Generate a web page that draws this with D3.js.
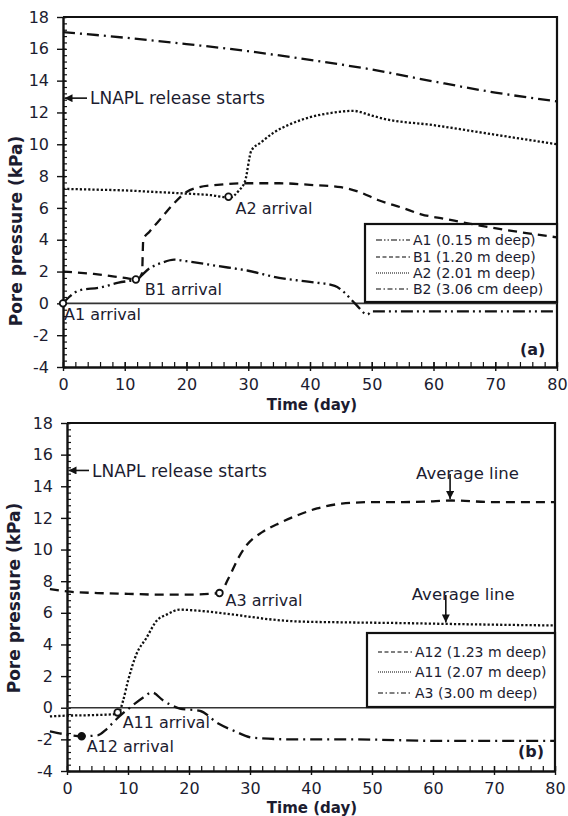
<!DOCTYPE html>
<html><head><meta charset="utf-8">
<script src="https://cdn.jsdelivr.net/npm/d3@7"></script>
<style>body{margin:0;background:#fff} svg{display:block}</style>
</head><body><svg id="c" width="568" height="816"></svg>
<script>
// ---------- data ----------
const xTicks = [0,10,20,30,40,50,60,70,80];
const yTicks = [-4,-2,0,2,4,6,8,10,12,14,16,18];
const legendA = ["A1 (0.15 m deep)","B1 (1.20 m deep)","A2 (2.01 m deep)","B2 (3.06 cm deep)"];
const legendB = ["A12 (1.23 m deep)","A11 (2.07 m deep)","A3 (3.00 m deep)"];

// panel (a)
const seriesA1 = [[0,0],[1,0.4],[2.5,0.8],[6,1.0],[9,1.3],[12,1.55],[14,2.2],[16,2.55],[18,2.75],[20,2.65],[25,2.35],[30,2.05],[35,1.6],[40,1.35],[44,1.1],[45.5,0.7],[47.5,-0.1],[49.3,-0.7],[50,-0.5],[60,-0.5],[70,-0.5],[80,-0.5]];
const seriesB1 = [[0,2.0],[5,1.85],[10,1.6],[12,1.5],[12.8,1.9],[13,4.0],[14,4.5],[16,5.4],[18,6.3],[20,7.0],[22,7.3],[25,7.45],[30,7.55],[35,7.55],[40,7.45],[45,7.3],[48,7.0],[51,6.5],[55,6.0],[58,5.6],[62,5.3],[66,5.0],[72,4.6],[80,4.15]];
const seriesA2 = [[0,7.2],[5,7.15],[10,7.1],[15,7.0],[20,6.9],[24,6.8],[27,6.65],[28.5,7.1],[29.5,7.7],[30.5,9.6],[32,10.1],[34,10.7],[37,11.3],[40,11.7],[44,12.0],[47,12.1],[50,11.8],[52,11.6],[60,11.2],[70,10.6],[80,10.0]];
const seriesB2 = [[0,17.05],[10,16.7],[20,16.3],[30,15.85],[40,15.3],[50,14.7],[60,13.95],[70,13.25],[80,12.7]];
// panel (b)
const seriesA12 = [[-2.8,7.5],[0,7.35],[5,7.25],[10,7.2],[15,7.15],[20,7.15],[25,7.25],[26.5,8.2],[28,9.4],[29.5,10.3],[32,11.1],[35,11.7],[38,12.2],[41,12.6],[45,12.9],[50,13.0],[55,13.0],[60,13.05],[63,13.1],[70,13.0],[80,13.0]];
const seriesA11 = [[-2.8,-0.55],[0,-0.5],[4,-0.47],[8,-0.4],[8.5,-0.3],[9.2,0.45],[10,1.7],[11.4,3.4],[13,4.4],[14.7,5.5],[16.4,5.9],[18.5,6.2],[21,6.15],[25,6.0],[30,5.75],[33,5.6],[38,5.45],[45,5.4],[55,5.35],[62,5.3],[70,5.25],[80,5.2]];
const seriesA3 = [[-2.8,-1.5],[-0.8,-1.65],[2.4,-1.8],[5,-1.75],[6.5,-1.35],[7.9,-0.8],[10.6,0.1],[12.5,0.65],[13.9,0.97],[15.8,0.45],[18.5,-0.05],[21.8,-0.2],[24.8,-1.0],[27.3,-1.45],[30.5,-1.9],[37,-2.0],[46,-2.0],[62,-2.1],[80,-2.1]];

// arrival markers [day, kPa]
const arrivalsA = [{label:"A1 arrival",p:[0,0]},{label:"B1 arrival",p:[11.8,1.5]},{label:"A2 arrival",p:[26.8,6.7]}];
const arrivalsB = [{label:"A3 arrival",p:[25,7.25]},{label:"A11 arrival",p:[8.3,-0.3]},{label:"A12 arrival",p:[2.4,-1.8],filled:true}];
const releaseA = 12.9, releaseB = 15.0;
const averageB = [[62.8,13.1],[62.1,5.3]];

// ---------- drawing ----------
const svg = d3.select("#c");
const FONT = "DejaVu Sans";
const TXT = "#1c1c30";
svg.append("defs").append("marker")
  .attr("id","ah").attr("viewBox","0 0 10 10").attr("refX",10).attr("refY",5)
  .attr("markerWidth",9).attr("markerHeight",8).attr("markerUnits","userSpaceOnUse")
  .attr("orient","auto")
  .append("path").attr("d","M0,0L10,5L0,10z").attr("fill","#111");

const styles = {
  dashdotdot: "12,4,2,4,2,4",
  dashed: "9,6",
  dotted: "2.2,2",
  dashdot: "12,5,2,5"
};
const legStyles = {
  dashdotdot: "6,2,1.5,2,1.5,2",
  dashed: "4,2.5",
  dotted: "1,1",
  dashdot: "5,2.5,1.5,2.5"
};

function panel(cfg){
  const x = d3.scaleLinear([0,80],[cfg.x0,cfg.x1]);
  const y = d3.scaleLinear([-4,18],[cfg.yb,cfg.yt]);
  const g = svg.append("g");

  // frame top/right
  g.append("path").attr("d",`M${cfg.x0},${cfg.yt}H${cfg.x1}V${cfg.yb}`)
    .attr("fill","none").attr("stroke","#111").attr("stroke-width",2.2);

  // y axis
  const yMinor = d3.range(-4,18.01,0.4).map(v=>+v.toFixed(2));
  g.append("g").attr("transform",`translate(${cfg.x0},0)`)
    .call(d3.axisLeft(y).tickValues(yMinor).tickSize(-4).tickSizeOuter(0).tickFormat(""))
    .call(a=>a.select(".domain").remove())
    .call(a=>a.selectAll("line").attr("stroke","#111").attr("stroke-width",1.2));
  g.append("g").attr("transform",`translate(${cfg.x0},0)`)
    .call(d3.axisLeft(y).tickValues(yTicks).tickSize(6).tickSizeOuter(0).tickPadding(8).tickFormat(d3.format("d")))
    .call(a=>a.select(".domain").attr("stroke","#111").attr("stroke-width",2.4))
    .call(a=>a.selectAll("line").attr("stroke","#111").attr("stroke-width",1.4).attr("x2",-6).attr("x1",3))
    .call(a=>a.selectAll("text").attr("font-family",FONT).attr("font-size",16).attr("fill",TXT).text(d=>d<0?"-"+Math.abs(d):d));

  // x axis
  const xMinor = d3.range(0,80.01,2);
  g.append("g").attr("transform",`translate(0,${cfg.yb})`)
    .call(d3.axisBottom(x).tickValues(xMinor).tickSize(-5).tickSizeOuter(0).tickFormat(""))
    .call(a=>a.select(".domain").remove())
    .call(a=>a.selectAll("line").attr("stroke","#111").attr("stroke-width",1.2));
  g.append("g").attr("transform",`translate(0,${cfg.yb})`)
    .call(d3.axisBottom(x).tickValues(xTicks).tickSize(4).tickSizeOuter(0).tickPadding(8))
    .call(a=>a.select(".domain").attr("stroke","#111").attr("stroke-width",2.4))
    .call(a=>a.selectAll("line").attr("stroke","#111").attr("stroke-width",1.4).attr("y1",-5))
    .call(a=>a.selectAll("text").attr("font-family",FONT).attr("font-size",16).attr("fill",TXT));

  // zero line
  g.append("line").attr("x1",x(0)).attr("x2",x(80)).attr("y1",y(0)).attr("y2",y(0))
    .attr("stroke","#333").attr("stroke-width",1.6);

  // titles
  g.append("text").attr("transform",`translate(${cfg.ytX},${cfg.ytY}) rotate(-90)`)
    .attr("text-anchor","middle").attr("font-family",FONT).attr("font-weight","bold")
    .attr("font-size",17).attr("fill",TXT).text("Pore pressure (kPa)");
  g.append("text").attr("x",312).attr("y",cfg.xtY).attr("text-anchor","middle")
    .attr("font-family",FONT).attr("font-weight","bold").attr("font-size",15).attr("fill",TXT).text("Time (day)");
  g.append("text").attr("x",cfg.x1-37).attr("y",cfg.tagY).attr("font-family",FONT).attr("font-weight","bold")
    .attr("font-size",16).attr("fill",TXT).text(cfg.tag);

  // legend
  const L = cfg.leg;
  g.append("rect").attr("x",L.x).attr("y",L.y).attr("width",L.w).attr("height",L.h)
    .attr("fill","#fff").attr("stroke","#111").attr("stroke-width",2.2);
  cfg.series.forEach((s,i)=>{
    const ry = L.rows[i];
    g.append("line").attr("x1",L.x+11).attr("x2",L.x+45).attr("y1",ry).attr("y2",ry)
      .attr("stroke","#555").attr("stroke-width",1.3).attr("stroke-dasharray",legStyles[s.style]);
    g.append("text").attr("x",L.x+48).attr("y",ry).attr("dy","0.36em").attr("font-family",FONT)
      .attr("font-size",14).attr("fill",TXT).text(s.name);
  });

  // series
  const line = d3.line().x(d=>x(d[0])).y(d=>y(d[1])).curve(d3.curveMonotoneX);
  cfg.series.forEach(s=>{
    g.append("path").attr("d",line(s.data)).attr("fill","none").attr("stroke","#111")
      .attr("stroke-width",2.3).attr("stroke-dasharray",styles[s.style]);
  });

  // release arrow
  const ry = y(cfg.release);
  g.append("line").attr("x1",cfg.x0+cfg.relOff-2).attr("x2",cfg.x0+1.5).attr("y1",ry).attr("y2",ry)
    .attr("stroke","#111").attr("stroke-width",1.6).attr("marker-end","url(#ah)");
  g.append("text").attr("x",cfg.x0+cfg.relOff+1).attr("y",ry).attr("dy","0.36em").attr("font-family",FONT)
    .attr("font-size",17).attr("fill",TXT).text("LNAPL release starts");

  // arrivals
  cfg.arrivals.forEach((a,i)=>{
    g.append("circle").attr("cx",x(a.p[0])).attr("cy",y(a.p[1])).attr("r",3.3)
      .attr("fill",a.filled?"#111":"#fff").attr("stroke","#111").attr("stroke-width",1.8);
    const o = cfg.arrOff[i];
    g.append("text").attr("x",x(a.p[0])+o[0]).attr("y",y(a.p[1])+o[1]).attr("font-family",FONT)
      .attr("font-size",16).attr("fill",TXT).text(a.label);
  });

  return {x,y,g};
}

panel({x0:63,x1:557,yt:17,yb:367,ytX:22,ytY:231,xtY:410,tag:"(a)",tagY:355,
  leg:{x:365,y:224,w:192,h:78,rows:[240,257,273,289]},
  series:[{name:legendA[0],data:seriesA1,style:"dashdotdot"},{name:legendA[1],data:seriesB1,style:"dashed"},
          {name:legendA[2],data:seriesA2,style:"dotted"},{name:legendA[3],data:seriesB2,style:"dashdot"}],
  release:releaseA, relOff:26,
  arrivals:arrivalsA, arrOff:[[1,17],[9,15],[7,17]]});

const pb = panel({x0:67,x1:555,yt:423,yb:771,ytX:20,ytY:598,xtY:813,tag:"(b)",tagY:757,
  leg:{x:367,y:633,w:188,h:74,rows:[652,672,693]},
  series:[{name:legendB[0],data:seriesA12,style:"dashed"},{name:legendB[1],data:seriesA11,style:"dotted"},
          {name:legendB[2],data:seriesA3,style:"dashdot"}],
  release:releaseB, relOff:24,
  arrivals:arrivalsB, arrOff:[[6,13],[5,16],[5,16]]});

// average line annotations
averageB.forEach((a,i)=>{
  const ax = pb.x(a[0]), ay = pb.y(a[1]);
  const ty = i===0 ? 479 : 600;
  pb.g.append("text").attr("x",ax-34).attr("y",ty).attr("font-family",FONT).attr("font-size",16.5)
    .attr("fill",TXT).text("Average line");
  pb.g.append("line").attr("x1",ax).attr("x2",ax).attr("y1",ty-5).attr("y2",ay-1.5)
    .attr("stroke","#111").attr("stroke-width",1.6).attr("marker-end","url(#ah)");
});
</script>
</body></html>
